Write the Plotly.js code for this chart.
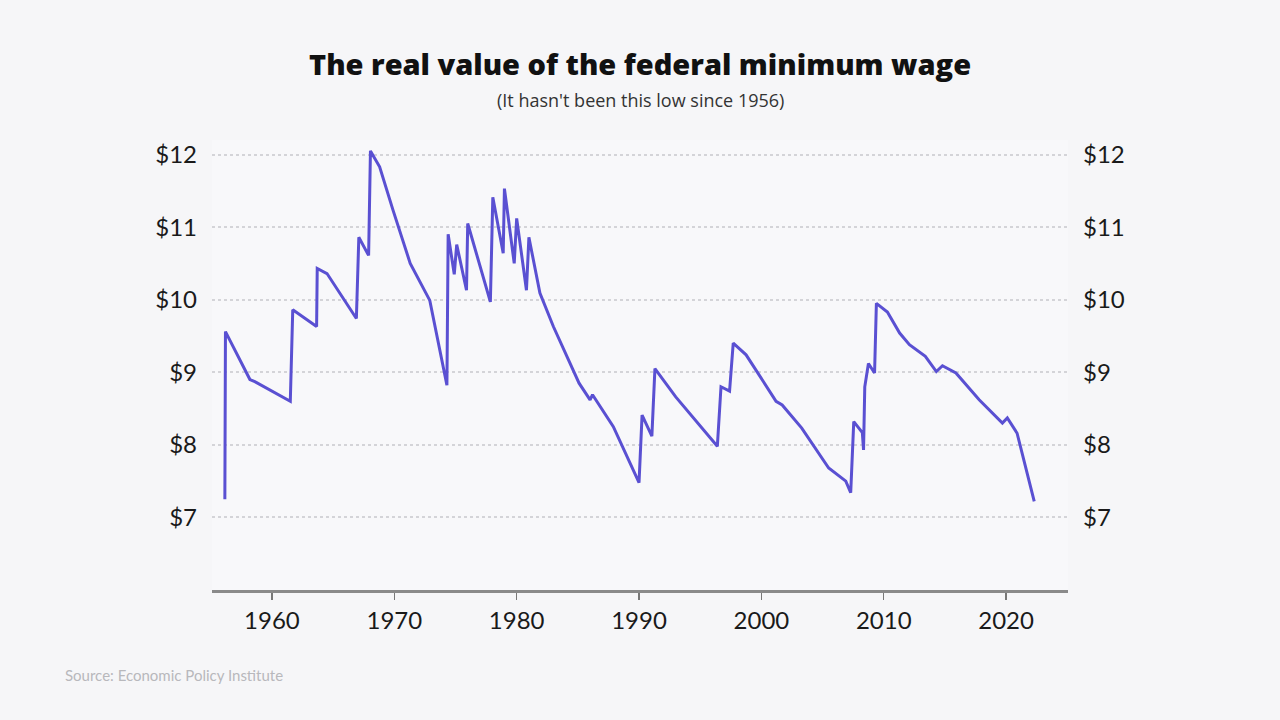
<!DOCTYPE html>
<html>
<head>
<meta charset="utf-8">
<script src="https://cdn.plot.ly/plotly-3.0.1.min.js"></script>
<style>html,body{margin:0;padding:0;background:#f6f6f8;}#chart{width:1280px;height:720px;}</style>
</head>
<body>
<div id="chart"></div>
<script>
// Real value of the federal minimum wage (2022 dollars)
const years = [1956.15,1956.2,1958.2,1958.6,1961.5,1961.7,1963.65,1963.7,1964.5,1966.9,1967.1,1967.9,1968.05,1968.8,1969.9,1971.3,1972.9,1974.3,1974.4,1974.9,1975.1,1975.9,1976.0,1977.85,1978.05,1978.9,1979.0,1979.8,1980.0,1980.8,1981.0,1981.9,1983.0,1984.1,1985.1,1986.0,1986.2,1987.9,1990.0,1990.25,1991.05,1991.3,1993.0,1996.4,1996.7,1997.4,1997.7,1998.75,2001.2,2001.7,2003.3,2005.5,2006.9,2007.3,2007.55,2008.25,2008.35,2008.45,2008.75,2009.25,2009.4,2010.3,2011.3,2012.1,2013.4,2014.3,2014.8,2015.9,2017.8,2019.7,2020.1,2020.9,2021.3,2022.3];
const wage = [7.25,9.56,8.90,8.87,8.60,9.86,9.63,10.43,10.36,9.74,10.86,10.61,12.05,11.83,11.23,10.50,9.99,8.82,10.90,10.35,10.76,10.13,11.05,9.97,11.41,10.64,11.53,10.50,11.12,10.13,10.86,10.09,9.63,9.22,8.85,8.62,8.69,8.25,7.48,8.41,8.12,9.05,8.66,7.98,8.80,8.74,9.40,9.24,8.60,8.55,8.23,7.68,7.50,7.34,8.32,8.17,7.93,8.80,9.12,8.99,9.95,9.83,9.54,9.38,9.22,9.01,9.09,8.99,8.62,8.30,8.37,8.16,7.89,7.22];
const yTickVals = [7,8,9,10,11,12];
const yTickText = ['$7','$8','$9','$10','$11','$12'];
const xTickVals = [1960,1970,1980,1990,2000,2010,2020];
const titleText = 'The real value of the federal minimum wage';
const subtitleText = "(It hasn't been this low since 1956)";
const sourceText = 'Source: Economic Policy Institute';

const font = 'Lato, "Open Sans", sans-serif';
const tfont = '"Open Sans", Lato, sans-serif';
const traces = [
  {x: years, y: wage, type: 'scatter', mode: 'lines', line: {color: '#5a50d2', width: 3}, hoverinfo: 'skip', yaxis: 'y'},
  {x: years, y: wage, type: 'scatter', mode: 'lines', line: {color: 'rgba(0,0,0,0)', width: 0}, hoverinfo: 'skip', yaxis: 'y2', showlegend: false}
];
const yCommon = {
  range: [6, 12.2], tickvals: yTickVals, ticktext: yTickText, ticks: '',
  tickfont: {family: font, size: 24, color: '#1a1a1a'}, zeroline: false, showline: false,
  ticklabelstandoff: 14
};
const layout = {
  width: 1280, height: 720,
  paper_bgcolor: '#f6f6f8', plot_bgcolor: '#f8f8fa',
  margin: {l: 212, r: 212, t: 140, b: 130},
  showlegend: false,
  xaxis: {
    range: [1955.1, 2025.06], tickvals: xTickVals, ticks: 'outside', ticklen: 7, tickwidth: 1.5, tickcolor: '#777',
    showgrid: false, zeroline: false, showline: true, linecolor: '#8a8a8a', linewidth: 3,
    tickfont: {family: font, size: 24, color: '#1a1a1a'}, ticklabelstandoff: 0
  },
  yaxis: Object.assign({}, yCommon, {side: 'left', showgrid: true, gridcolor: '#d4d4d8', gridwidth: 2, griddash: 'dot'}),
  yaxis2: Object.assign({}, yCommon, {side: 'right', overlaying: 'y', showgrid: false}),
  annotations: [
    {text: titleText, xref: 'paper', yref: 'paper', x: 0.5, y: 1.169, xanchor: 'center', yanchor: 'middle', showarrow: false, font: {family: tfont, size: 29, weight: 800, color: '#111'}},
    {text: subtitleText, xref: 'paper', yref: 'paper', x: 0.5, y: 1.089, xanchor: 'center', yanchor: 'middle', showarrow: false, font: {family: tfont, size: 18, color: '#333'}},
    {text: sourceText, xref: 'paper', yref: 'paper', x: -0.174, y: -0.189, xanchor: 'left', yanchor: 'middle', showarrow: false, font: {family: font, size: 15, color: '#b8b8bc'}}
  ]
};
Plotly.newPlot('chart', traces, layout, {displayModeBar: false, staticPlot: true});
</script>
</body>
</html>
